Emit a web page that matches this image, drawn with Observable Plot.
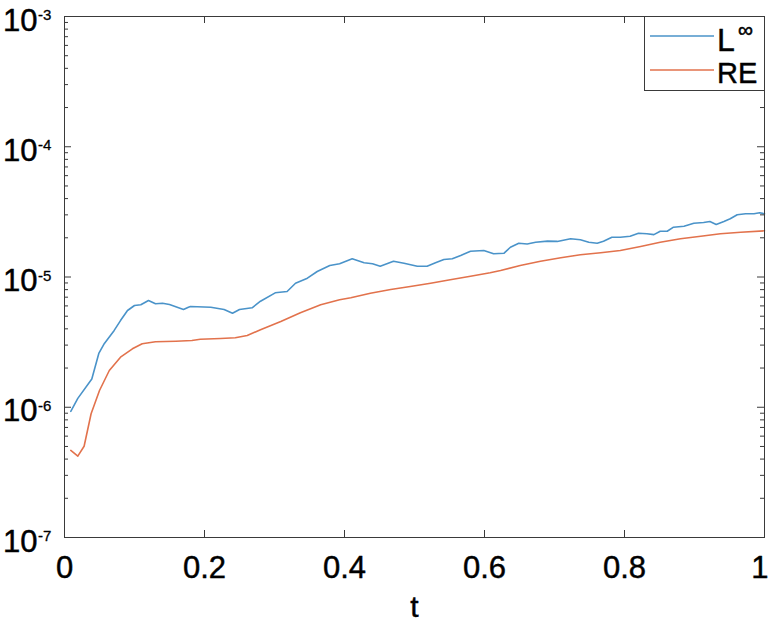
<!DOCTYPE html>
<html><head><meta charset="utf-8">
<script src="https://cdn.jsdelivr.net/npm/d3@7"></script>
<script src="https://cdn.jsdelivr.net/npm/@observablehq/plot@0.6"></script>
<style>
body{margin:0;background:#fff;}
#wrap{position:relative;width:768px;height:621px;overflow:hidden;font-family:"Liberation Sans",Arial,sans-serif;}
#legend{position:absolute;left:644px;top:16px;width:119px;height:73px;border:1px solid #3a3a3a;background:#fff;}
#legend svg{position:absolute;left:0;top:0;overflow:visible;}
</style></head><body><div id="wrap"></div>
<script>
// ---- data ----
const tInf = [0.009,0.019,0.039,0.049,0.057,0.071,0.080,0.090,0.100,0.109,
  0.120,0.130,0.140,0.150,0.161,0.170,0.177,0.180,0.209,0.228,
  0.240,0.250,0.268,0.280,0.301,0.318,0.330,0.347,0.361,0.379,
  0.393,0.411,0.428,0.440,0.451,0.470,0.485,0.504,0.518,0.530,
  0.542,0.554,0.566,0.580,0.599,0.613,0.628,0.637,0.649,0.661,
  0.673,0.690,0.704,0.723,0.737,0.749,0.761,0.770,0.782,0.794,
  0.808,0.820,0.832,0.842,0.851,0.861,0.870,0.885,0.899,0.913,
  0.922,0.931,0.942,0.951,0.961,0.973,0.985,0.993,1.0];
const vInf = [9.3e-7,1.17e-6,1.65e-6,2.59e-6,3.09e-6,3.89e-6,4.63e-6,5.53e-6,6.04e-6,6.12e-6,
  6.6e-6,6.23e-6,6.29e-6,6.15e-6,5.86e-6,5.63e-6,5.86e-6,5.94e-6,5.86e-6,5.63e-6,
  5.27e-6,5.63e-6,5.8e-6,6.52e-6,7.56e-6,7.74e-6,8.96e-6,9.79e-6,1.102e-5,1.225e-5,
  1.263e-5,1.379e-5,1.285e-5,1.263e-5,1.21e-5,1.322e-5,1.276e-5,1.21e-5,1.21e-5,1.285e-5,
  1.363e-5,1.379e-5,1.463e-5,1.578e-5,1.598e-5,1.507e-5,1.523e-5,1.693e-5,1.818e-5,1.79e-5,
  1.85e-5,1.884e-5,1.876e-5,1.965e-5,1.93e-5,1.85e-5,1.818e-5,1.884e-5,2.021e-5,2.021e-5,
  2.057e-5,2.169e-5,2.147e-5,2.114e-5,2.247e-5,2.247e-5,2.412e-5,2.455e-5,2.589e-5,2.62e-5,
  2.668e-5,2.533e-5,2.668e-5,2.798e-5,3.004e-5,3.057e-5,3.057e-5,3.112e-5,3.057e-5];
const tRE = [0.009,0.019,0.028,0.038,0.050,0.064,0.080,0.097,0.111,0.130,
  0.159,0.182,0.194,0.223,0.244,0.261,0.280,0.309,0.337,0.366,
  0.393,0.409,0.437,0.466,0.494,0.523,0.551,0.580,0.608,0.623,
  0.651,0.680,0.709,0.737,0.766,0.794,0.823,0.851,0.880,0.909,
  0.937,0.966,1.0];
const vRE = [4.66e-7,4.21e-7,5.02e-7,8.91e-7,1.345e-6,1.915e-6,2.423e-6,2.81e-6,3.07e-6,3.18e-6,
  3.215e-6,3.254e-6,3.33e-6,3.37e-6,3.414e-6,3.556e-6,3.933e-6,4.553e-6,5.31e-6,6.12e-6,
  6.68e-6,6.92e-6,7.51e-6,8.02e-6,8.46e-6,8.96e-6,9.52e-6,1.014e-5,1.077e-5,1.122e-5,
  1.225e-5,1.322e-5,1.404e-5,1.481e-5,1.534e-5,1.598e-5,1.715e-5,1.85e-5,1.965e-5,2.057e-5,
  2.146e-5,2.208e-5,2.263e-5];
const seriesNames = ["L", "RE"];
const xTicks = [0, 0.2, 0.4, 0.6, 0.8, 1];
const xTickLabels = ["0", "0.2", "0.4", "0.6", "0.8", "1"];
const yMajor = [1e-7, 1e-6, 1e-5, 1e-4, 1e-3];
const yExpLabels = ["-7", "-6", "-5", "-4", "-3"];
const yMinorMult = [2, 3, 4, 5, 6, 7, 8, 9];
const xLabel = "t";

// ---- layout ----
const W = 768, H = 621, mL = 64, mR = 4, mT = 16, mB = 84;
const PW = W - mL - mR, PH = H - mT - mB;
const blue = "#4a93c9", orange = "#e2724c", axisCol = "#3a3a3a";
const txt = {fill: "#000", stroke: "#000", strokeWidth: 0.45};

const infData = tInf.map((t, i) => ({t, v: vInf[i]}));
const reData = tRE.map((t, i) => ({t, v: vRE[i]}));
const yMinor = yMajor.slice(0, -1).flatMap(b => yMinorMult.map(m => m * b));
const xLab = xTicks.map((x, i) => ({x, label: xTickLabels[i]}));
const xLabInner = xLab.slice(0, -1), xLabLast = xLab.slice(-1);

const chart = Plot.plot({
  width: W, height: H,
  marginLeft: mL, marginRight: mR, marginTop: mT, marginBottom: mB,
  style: {fontFamily: "Liberation Sans, Arial, sans-serif", background: "white", color: "#000"},
  x: {domain: [0, 1], axis: null},
  y: {type: "log", domain: [1e-7, 1e-3], axis: null},
  marks: [
    Plot.line(infData, {x: "t", y: "v", stroke: blue, strokeWidth: 1.6}),
    Plot.line(reData, {x: "t", y: "v", stroke: orange, strokeWidth: 1.6}),
    Plot.frame({stroke: axisCol, strokeWidth: 1}),
    Plot.tickX(xTicks, {x: d => d, insetTop: PH - 7, stroke: axisCol}),
    Plot.tickX(xTicks, {x: d => d, insetBottom: PH - 7, stroke: axisCol}),
    Plot.tickY(yMajor, {y: d => d, insetRight: PW - 7, stroke: axisCol}),
    Plot.tickY(yMajor, {y: d => d, insetLeft: PW - 7, stroke: axisCol}),
    Plot.tickY(yMinor, {y: d => d, insetRight: PW - 4, stroke: axisCol}),
    Plot.tickY(yMinor, {y: d => d, insetLeft: PW - 4, stroke: axisCol}),
    Plot.text(xLabInner, {x: "x", frameAnchor: "bottom", text: "label",
      dy: 40, lineAnchor: "bottom", fontSize: 31, ...txt}),
    Plot.text(xLabLast, {x: "x", frameAnchor: "bottom", text: "label", textAnchor: "end",
      dx: 4, dy: 40, lineAnchor: "bottom", fontSize: 31, ...txt}),
    Plot.text(yMajor, {y: d => d, frameAnchor: "left", text: () => "10", textAnchor: "end",
      dx: -27, dy: 14, lineAnchor: "bottom", fontSize: 31, ...txt}),
    Plot.text(yMajor, {y: d => d, frameAnchor: "left", text: (d, i) => yExpLabels[i], textAnchor: "start",
      dx: -26.5, dy: 3.5, lineAnchor: "bottom", fontSize: 15, ...txt, strokeWidth: 0.3}),
    Plot.text([xLabel], {frameAnchor: "bottom", text: d => d, dy: 79, lineAnchor: "bottom", fontSize: 30, ...txt})
  ]
});

const wrap = document.getElementById("wrap");
wrap.appendChild(chart);

// legend
const leg = document.createElement("div");
leg.id = "legend";
leg.innerHTML = `<svg width="119" height="73" font-family="Liberation Sans, Arial, sans-serif">
  <line x1="5" x2="69" y1="19" y2="19" stroke="${blue}" stroke-width="1.6"/>
  <line x1="5" x2="69" y1="53" y2="53" stroke="${orange}" stroke-width="1.6"/>
  <text x="72" y="33.5" font-size="32" fill="#000" stroke="#000" stroke-width="0.45">${seriesNames[0]}</text>
  <text x="93" y="20" font-size="21" fill="#000" stroke="#000" stroke-width="0.5">∞</text>
  <text x="72" y="66" font-size="29" fill="#000" stroke="#000" stroke-width="0.45">${seriesNames[1]}</text>
</svg>`;
wrap.appendChild(leg);
</script>
</body></html>
